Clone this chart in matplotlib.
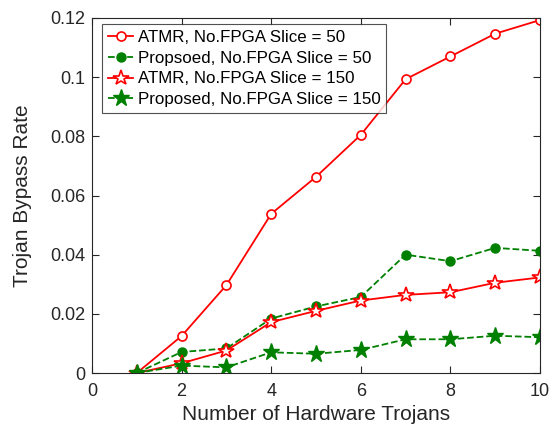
import matplotlib
matplotlib.use("Agg")
import matplotlib.pyplot as plt

x = [1, 2, 3, 4, 5, 6, 7, 8, 9, 10]
atmr50 = [0, 0.0125, 0.0297, 0.0538, 0.0663, 0.0805, 0.0993, 0.1070, 0.1147, 0.1193]
prop50 = [0, 0.0071, 0.0083, 0.0184, 0.0225, 0.0257, 0.0400, 0.0378, 0.0423, 0.0413]
atmr150 = [0, 0.0033, 0.0076, 0.0172, 0.0210, 0.0245, 0.0264, 0.0273, 0.0305, 0.0323]
prop150 = [0, 0.0025, 0.0019, 0.0070, 0.0065, 0.0078, 0.0114, 0.0114, 0.0126, 0.0121]
labels = ["ATMR, No.FPGA Slice = 50", "Propsoed, No.FPGA Slice = 50",
          "ATMR, No.FPGA Slice = 150", "Proposed, No.FPGA Slice = 150"]
xticks = [0, 2, 4, 6, 8, 10]
yticks = [0, 0.02, 0.04, 0.06, 0.08, 0.1, 0.12]
yticklabels = ["0", "0.02", "0.04", "0.06", "0.08", "0.1", "0.12"]

plt.rcParams['font.family'] = ['Liberation Sans', 'DejaVu Sans']
fig = plt.figure(figsize=(5.5, 4.28), dpi=100)
ax = fig.add_axes([92/550, 1-373/428, 448/550, 355/428])

green = '#008000'
tc = '#262626'
ax.plot(x, atmr50, '-', color='red', lw=1.3, marker='o', ms=6.5, mfc='white', mec='red', mew=1.2, label=labels[0])
ax.plot(x, prop50, '--', color=green, lw=1.3, marker='o', ms=6.5, mfc=green, mec=green, label=labels[1])
ax.plot(x, atmr150, '-', color='red', lw=1.3, marker='*', ms=11.5, mfc='white', mec='red', mew=1.2, label=labels[2])
ax.plot(x, prop150, '--', color=green, lw=1.3, marker='*', ms=12.5, mfc=green, mec=green, label=labels[3])

ax.set_xlim(0, 10)
ax.set_ylim(0, 0.12)
ax.set_xticks(xticks)
ax.set_yticks(yticks)
ax.set_yticklabels(yticklabels)
ax.tick_params(direction='in', top=True, right=True, labelsize=13, colors=tc, length=5)
ax.tick_params(axis='x', pad=7)
ax.tick_params(axis='y', pad=5)
for s in ax.spines.values():
    s.set_color(tc)
    s.set_linewidth(0.8)
ax.set_xlabel("Number of Hardware Trojans", fontsize=15, color=tc, labelpad=4)
ax.set_ylabel("Trojan Bypass Rate", fontsize=15, color=tc, labelpad=13)
leg = ax.legend(loc='upper left', bbox_to_anchor=(10/448, 1-6/355), fontsize=12.2, frameon=True, fancybox=False,
                edgecolor=tc, handlelength=1.5, handletextpad=0.25, borderpad=0.35, labelspacing=0.34,
                borderaxespad=0)
leg.get_frame().set_linewidth(0.8)
for t in leg.get_texts():
    t.set_color('black')
fig.savefig("out.png", dpi=100)
